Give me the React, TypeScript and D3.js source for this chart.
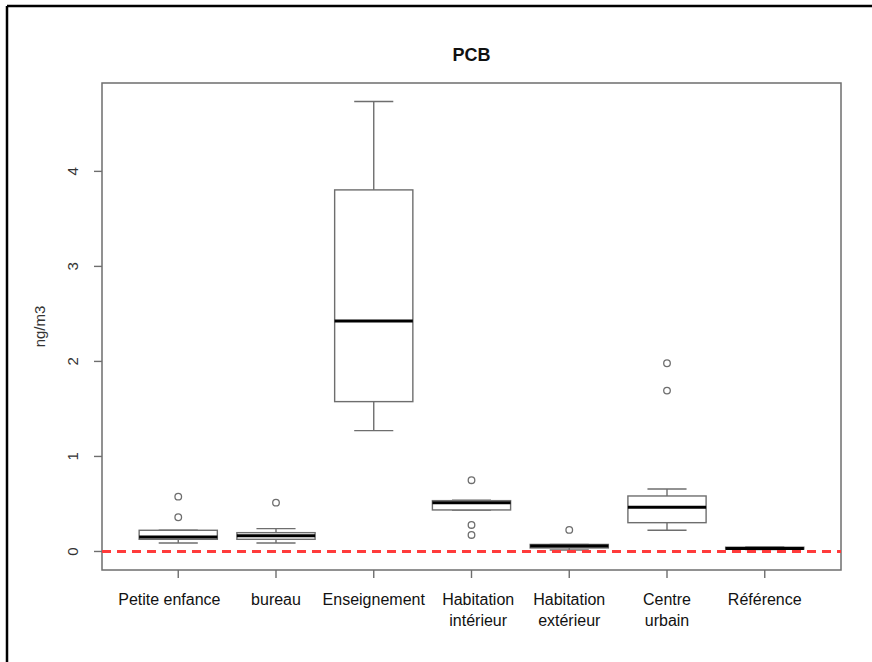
import React from "react";
import * as d3 from "d3";

const title = "PCB";
const yLabel = "ng/m3";
const categories = [
  "Petite enfance    ",
  "bureau",
  "Enseignement",
  "   Habitation\n   intérieur",
  "Habitation\nextérieur",
  "Centre\nurbain",
  "Référence",
];
const lowerWhisker = [0.089, 0.089, 1.272, 0.437, 0.016, 0.223, 0.02];
const q1 = [0.128, 0.128, 1.577, 0.437, 0.037, 0.303, 0.025];
const median = [0.151, 0.166, 2.426, 0.514, 0.058, 0.465, 0.03];
const q3 = [0.223, 0.198, 3.805, 0.535, 0.074, 0.584, 0.045];
const upperWhisker = [0.225, 0.24, 4.735, 0.54, 0.074, 0.658, 0.048];
const outliers: number[][] = [
  [0.577, 0.36],
  [0.514],
  [],
  [0.75, 0.279, 0.174],
  [0.227],
  [1.981, 1.693],
  [],
];
const yTicks = [0, 1, 2, 3, 4];
const refLine = 0;

const W = 872;
const H = 662;
const plot = { left: 102, right: 841, top: 83, bottom: 570 };

export default function App() {
  const x = d3.scaleLinear().domain([0.22, 7.78]).range([plot.left, plot.right]);
  const y = d3.scaleLinear().domain([-0.195, 4.93]).range([plot.bottom, plot.top]);
  const halfBox = x(1.4) - x(1);
  const halfStaple = x(1.2) - x(1);
  const lineCol = "#6e6e6e";
  const font = "'Liberation Sans', Arial, sans-serif";

  return (
    <svg
      width={W}
      height={H}
      style={{ position: "absolute", left: 0, top: 0, background: "#fff" }}
      fontFamily={font}
    >
      <rect x={0} y={0} width={W} height={H} fill="#fff" />
      {/* outer frame (top and left) */}
      <line x1={7} y1={6} x2={W} y2={6} stroke="#000" strokeWidth={2.5} />
      <line x1={7} y1={6} x2={7} y2={H} stroke="#000" strokeWidth={2.5} />

      <text x={(plot.left + plot.right) / 2} y={61} textAnchor="middle" fontSize={18} fontWeight="bold" fill="#111">
        {title}
      </text>

      {/* plot box */}
      <rect
        x={plot.left}
        y={plot.top}
        width={plot.right - plot.left}
        height={plot.bottom - plot.top}
        fill="none"
        stroke={lineCol}
        strokeWidth={1.5}
      />

      {/* y axis */}
      {yTicks.map((t) => (
        <g key={"yt" + t}>
          <line x1={plot.left - 8} x2={plot.left} y1={y(t)} y2={y(t)} stroke={lineCol} strokeWidth={1.4} />
          <text
            transform={`translate(${78},${y(t)}) rotate(-90)`}
            textAnchor="middle"
            fontSize={15}
            fill="#333"
          >
            {t}
          </text>
        </g>
      ))}
      <text
        transform={`translate(${45},${(plot.top + plot.bottom) / 2}) rotate(-90)`}
        textAnchor="middle"
        fontSize={15}
        fill="#333"
      >
        {yLabel}
      </text>

      {/* x axis */}
      {categories.map((c, i) => (
        <g key={"xt" + i}>
          <line x1={x(i + 1)} x2={x(i + 1)} y1={plot.bottom} y2={plot.bottom + 8} stroke={lineCol} strokeWidth={1.4} />
          <text
            x={x(i + 1)}
            y={605}
            textAnchor="middle"
            fontSize={16}
            fill="#111"
            style={{ whiteSpace: "pre" }}
          >
            {c.split("\n").map((ln, k) => (
              <tspan key={k} x={x(i + 1)} dy={k === 0 ? 0 : 20.5}>
                {ln}
              </tspan>
            ))}
          </text>
        </g>
      ))}

      {/* boxes */}
      {categories.map((_, i) => {
        const cx = x(i + 1);
        return (
          <g key={"b" + i}>
            <line x1={cx} x2={cx} y1={y(upperWhisker[i])} y2={y(q3[i])} stroke={lineCol} strokeWidth={1.4} />
            <line x1={cx} x2={cx} y1={y(q1[i])} y2={y(lowerWhisker[i])} stroke={lineCol} strokeWidth={1.4} />
            <line
              x1={cx - halfStaple}
              x2={cx + halfStaple}
              y1={y(upperWhisker[i])}
              y2={y(upperWhisker[i])}
              stroke={lineCol}
              strokeWidth={1.4}
            />
            <line
              x1={cx - halfStaple}
              x2={cx + halfStaple}
              y1={y(lowerWhisker[i])}
              y2={y(lowerWhisker[i])}
              stroke={lineCol}
              strokeWidth={1.4}
            />
            <rect
              x={cx - halfBox}
              y={y(q3[i])}
              width={2 * halfBox}
              height={Math.max(0.5, y(q1[i]) - y(q3[i]))}
              fill="#fff"
              stroke={lineCol}
              strokeWidth={1.4}
            />
            <line
              x1={cx - halfBox}
              x2={cx + halfBox}
              y1={y(median[i])}
              y2={y(median[i])}
              stroke="#000"
              strokeWidth={3}
            />
            {outliers[i].map((o, k) => (
              <circle key={k} cx={cx} cy={y(o)} r={3.3} fill="none" stroke={lineCol} strokeWidth={1.3} />
            ))}
          </g>
        );
      })}

      {/* reference line */}
      <line
        x1={plot.left}
        x2={plot.right}
        y1={y(refLine)}
        y2={y(refLine)}
        stroke="#ff3b3b"
        strokeWidth={3}
        strokeDasharray="9,6"
      />
    </svg>
  );
}
